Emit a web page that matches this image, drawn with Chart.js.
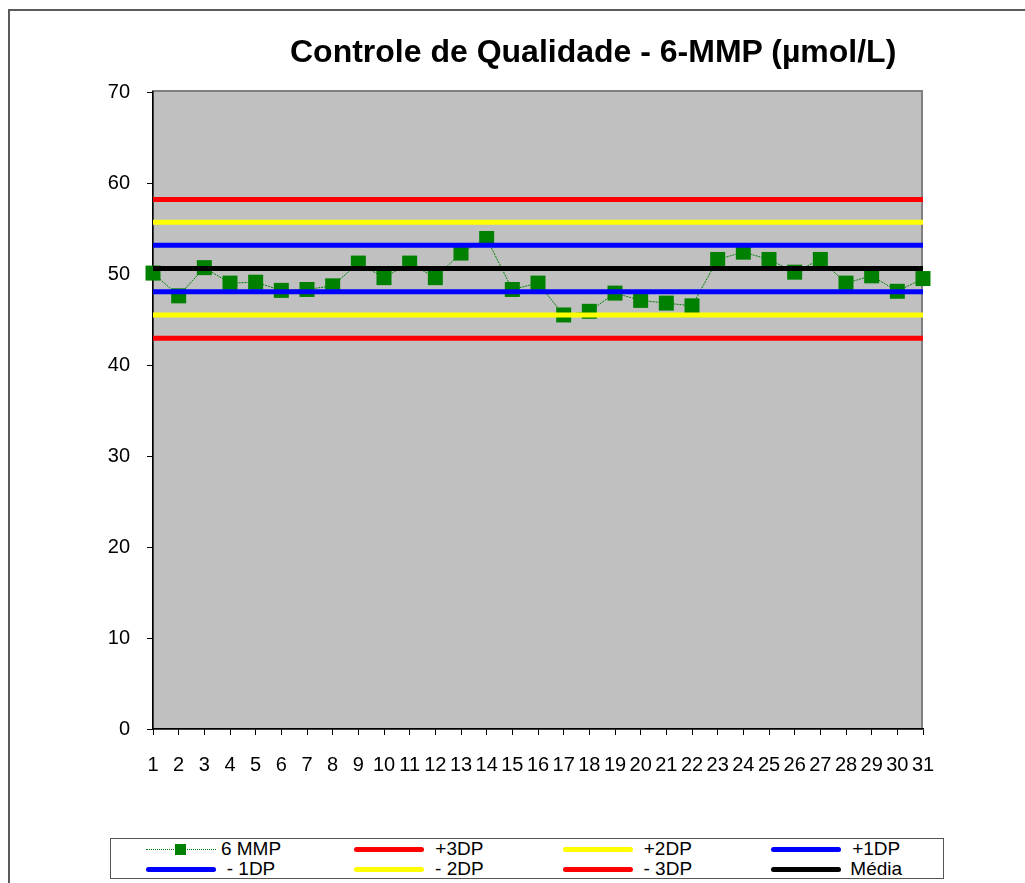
<!doctype html>
<html lang="pt">
  <head>
    <meta charset="utf-8">
    <title>Controle de Qualidade - 6-MMP</title>
    <style>
      * {
        margin: 0;
        padding: 0;
        font-family: "Liberation Sans", Arial, sans-serif;
      }
      body {
        background: #fff;
        overflow: hidden;
      }
      .chartBox {
        position: absolute;
        left: 0;
        top: 0;
        width: 1025px;
        height: 883px;
      }
      .chartTitle {
        position: absolute;
        left: 290px;
        top: 35px;
        font-size: 32px;
        line-height: 32px;
        font-weight: bold;
        white-space: nowrap;
      }
      #legend {
        position: absolute;
        left: 110px;
        top: 838px;
        width: 834px;
        height: 41px;
        box-sizing: border-box;
        border: 1.5px solid #555;
        background: #fff;
      }
      .item {
        position: absolute;
        height: 20px;
        display: flex;
        align-items: center;
      }
      .sample {
        width: 70px;
        height: 5px;
        border-radius: 3px;
        position: relative;
      }
      .sample.dotted {
        height: 0;
        border-top: 1px dotted #008000;
        border-radius: 0;
      }
      .sample.dotted span {
        position: absolute;
        left: 29px;
        top: -6px;
        width: 11px;
        height: 11px;
        background: #008000;
      }
      .label {
        width: 70px;
        text-align: center;
        font-size: 19px;
        line-height: 20px;
        white-space: nowrap;
      }
    </style>
  </head>
  <body>
    <div class="chartBox">
      <canvas id="myChart"></canvas>
    </div>
    <div class="chartTitle">Controle de Qualidade - 6-MMP (µmol/L)</div>
    <div id="legend"></div>

    <script src="https://cdn.jsdelivr.net/npm/chart.js"></script>
    <script>
    const days = ['1', '2', '3', '4', '5', '6', '7', '8', '9', '10', '11', '12', '13', '14', '15', '16',
      '17', '18', '19', '20', '21', '22', '23', '24', '25', '26', '27', '28', '29', '30', '31'];

    // 6 MMP results per day
    const mmp = [50.1, 47.6, 50.7, 49.0, 49.1, 48.2, 48.3, 48.7, 51.2, 49.6, 51.2, 49.6, 52.3, 53.9, 48.3, 49.0,
      45.5, 45.9, 47.9, 47.1, 46.8, 46.5, 51.6, 52.4, 51.6, 50.2, 51.6, 49.0, 49.8, 48.1, 49.5];

    // control limits (legend order)
    const limitNames = ['+3DP', '+2DP', ' +1DP', '- 1DP', '- 2DP', '- 3DP', 'Média'];
    const limitValues = [58.2, 55.7, 53.15, 48.05, 45.5, 42.95, 50.6];
    const limitColors = ['#ff0000', '#ffff00', '#0000ff', '#0000ff', '#ffff00', '#ff0000', '#000000'];

    const yTicks = [0, 10, 20, 30, 40, 50, 60, 70];

    const datasets = [{
      label: '6 MMP',
      data: mmp,
      borderColor: '#008000',
      borderWidth: 1,
      borderDash: [2, 1],
      pointStyle: 'rect',
      pointRadius: 10.6,
      pointBackgroundColor: '#008000',
      pointBorderWidth: 0,
      tension: 0,
      clip: false,
      order: 1
    }];

    limitNames.forEach((name, i) => {
      datasets.push({
        label: name,
        data: [{x: days[0], y: limitValues[i]}, {x: days[days.length - 1], y: limitValues[i]}],
        borderColor: limitColors[i],
        borderWidth: 5,
        pointRadius: 0,
        order: 0
      });
    });

    // outer chart frame + grey plot area
    const plotBg = {
      id: 'plotBg',
      beforeDraw(chart) {
        const {ctx, chartArea: a} = chart;
        ctx.save();
        ctx.strokeStyle = '#5a5a5a';
        ctx.lineWidth = 2;
        ctx.beginPath();
        ctx.moveTo(9, chart.height + 5);
        ctx.lineTo(9, 10);
        ctx.lineTo(chart.width + 5, 10);
        ctx.stroke();
        ctx.fillStyle = '#c0c0c0';
        ctx.fillRect(a.left, a.top, a.right - a.left, a.bottom - a.top);
        ctx.strokeStyle = '#808080';
        ctx.strokeRect(a.left, a.top - 1, a.right - a.left - 1, a.bottom - a.top + 1);
        ctx.restore();
      }
    };

    const axisFont = {family: '"Liberation Sans", Arial, sans-serif', size: 20};

    const config = {
      type: 'line',
      data: {labels: days, datasets},
      options: {
        responsive: true,
        maintainAspectRatio: false,
        animation: false,
        layout: {padding: {left: 93, right: 102, top: 92, bottom: 94}},
        plugins: {
          legend: {display: false},
          title: {display: false},
          tooltip: {enabled: false}
        },
        scales: {
          x: {
            offset: false,
            grid: {drawOnChartArea: false, tickLength: 6, color: '#000'},
            border: {color: '#000', width: 1.5},
            ticks: {autoSkip: false, maxRotation: 0, minRotation: 0, padding: 18, color: '#000', font: axisFont},
            afterFit(s) { s.height = 60; }
          },
          y: {
            min: yTicks[0],
            max: yTicks[yTicks.length - 1],
            grid: {drawOnChartArea: false, tickLength: 6, color: '#000'},
            border: {color: '#000', width: 1.5},
            ticks: {stepSize: 10, padding: 17, color: '#000', font: axisFont},
            afterFit(s) { s.width = 60; }
          }
        }
      },
      plugins: [plotBg]
    };

    const myChart = new Chart(document.getElementById('myChart'), config);

    // html legend, 4 columns x 2 rows
    const legendBox = document.getElementById('legend');
    myChart.data.datasets.forEach((ds, i) => {
      const col = i % 4, row = Math.floor(i / 4);
      const item = document.createElement('div');
      item.className = 'item';
      item.style.left = (35 + col * 208.4) + 'px';
      item.style.top = (row * 20) + 'px';
      const sample = document.createElement('div');
      sample.className = 'sample';
      if (ds.pointRadius) {
        sample.classList.add('dotted');
        sample.appendChild(document.createElement('span'));
      } else {
        sample.style.background = ds.borderColor;
      }
      const label = document.createElement('div');
      label.className = 'label';
      label.textContent = ds.label;
      item.appendChild(sample);
      item.appendChild(label);
      legendBox.appendChild(item);
    });
    </script>
  </body>
</html>
